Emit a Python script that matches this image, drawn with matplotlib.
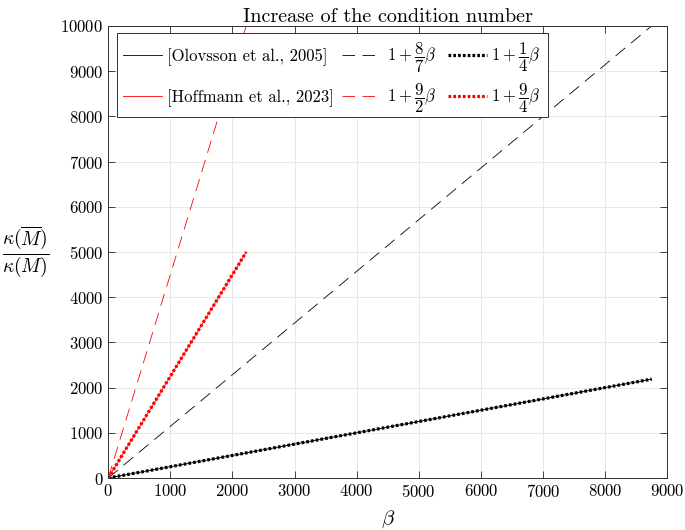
import matplotlib
matplotlib.use("Agg")
import matplotlib.pyplot as plt
from matplotlib.patches import Rectangle

plt.rcParams['font.family'] = 'serif'
plt.rcParams['font.serif'] = ['cmr10']
plt.rcParams['mathtext.fontset'] = 'cm'
plt.rcParams['axes.formatter.use_mathtext'] = True

# beta range of each group
beta_olov = [0, 8750]
beta_hoff = [0, 2222]

# ratio kappa(Mbar)/kappa(M) at the ends of each line
olov_solid = [1, 2188]
olov_dash = [1, 10001]
olov_dot = [1, 2188]
hoff_solid = [1, 5000]
hoff_dash = [1, 10000]
hoff_dot = [1, 5000]

labels_olov = ['[Olovsson et al., 2005]', r'$1+\dfrac{8}{7}\beta$', r'$1+\dfrac{1}{4}\beta$']
labels_hoff = ['[Hoffmann et al., 2023]', r'$1+\dfrac{9}{2}\beta$', r'$1+\dfrac{9}{4}\beta$']

xticks = list(range(0, 9001, 1000))
yticks = list(range(0, 10001, 1000))

DASH = (15, 9)
DOT = (0.85, 0.65)

fig = plt.figure(figsize=(6.85, 5.3), dpi=100)
ax = fig.add_axes([0.158, 0.098, 0.816, 0.853])

ax.plot(beta_olov, olov_solid, '-', color='k', lw=0.6)
ax.plot(beta_hoff, hoff_solid, '-', color='r', lw=0.6)
ax.plot(beta_olov, olov_dash, color='k', lw=0.6, dashes=DASH)
ax.plot(beta_hoff, hoff_dash, color='r', lw=0.6, dashes=DASH)
ax.plot(beta_olov, olov_dot, color='k', lw=2.3, dashes=DOT)
ax.plot(beta_hoff, hoff_dot, color='r', lw=2.3, dashes=DOT)

ax.set_xlim(0, 9000)
ax.set_ylim(0, 10000)
ax.set_xticks(xticks)
ax.set_yticks(yticks)
ax.tick_params(direction='in', top=True, right=True, labelsize=12, color='#404040', length=5, width=0.7)
ax.grid(True, color='#e8e8e8', lw=0.7)
ax.set_axisbelow(True)
for s in ax.spines.values():
    s.set_color('#303030')
    s.set_linewidth(0.7)

ax.set_title('Increase of the condition number', fontsize=14.5, pad=3)
ax.set_xlabel(r'$\beta$', fontsize=15, labelpad=6)
ax.set_ylabel(r'$\dfrac{\kappa(\overline{M})}{\kappa(M)}$', fontsize=14, rotation=0)
ax.yaxis.label.set_va('center')
ax.yaxis.label.set_ha('center')
ax.yaxis.set_label_coords(-0.148, 0.5)

# legend drawn by hand so that the two rows line up across the columns
ax.add_patch(Rectangle((0.0161, 0.7987), 0.7709, 0.1858, transform=ax.transAxes,
                       facecolor='white', edgecolor='#303030', lw=0.7, zorder=5))
col_handles = [(0.0268, 0.0966), (0.4186, 0.483), (0.608, 0.678)]
col_text = [0.1055, 0.499, 0.685]
styles = [dict(lw=0.6), dict(lw=0.6, dashes=DASH), dict(lw=2.3, dashes=DOT)]
rows = [('k', labels_olov, 0.9358, 0.9226), ('r', labels_hoff, 0.845, 0.8319)]
for colour, labels, yh, yt in rows:
    for (x0, x1), xt, st, lab in zip(col_handles, col_text, styles, labels):
        ax.plot([x0, x1], [yh, yh], color=colour, transform=ax.transAxes, zorder=6, **st)
        ax.text(xt, yt, lab, transform=ax.transAxes, fontsize=12, va='baseline', zorder=6)

fig.savefig('out.png', dpi=100)
